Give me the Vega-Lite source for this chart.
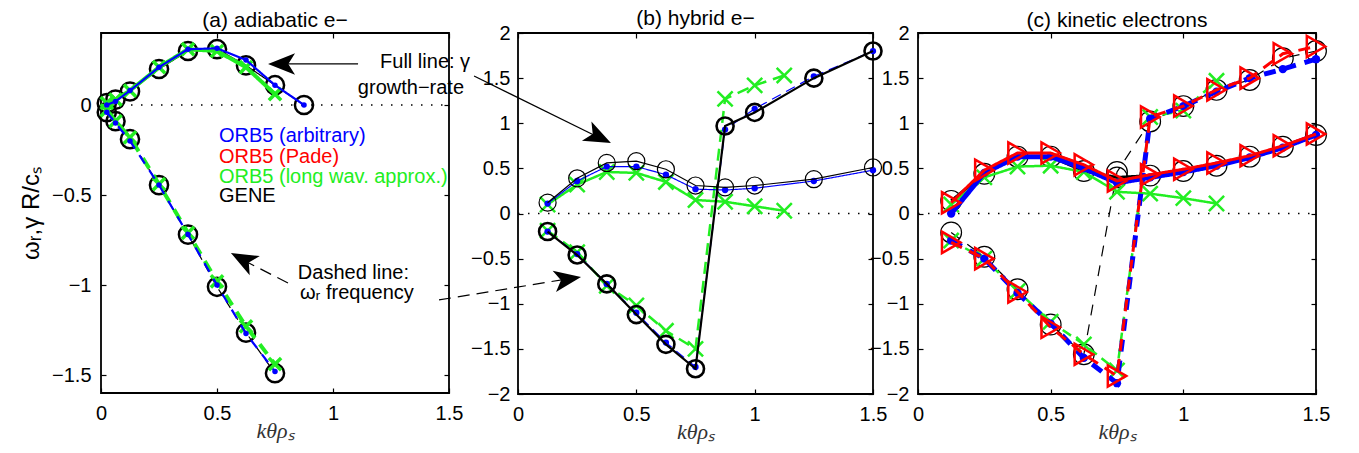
{
  "$schema": "https://vega.github.io/schema/vega-lite/v6.json",
  "autosize": {"type": "pad"},
  "padding": {"left": 18, "top": 6, "right": 5, "bottom": 5},
  "background": "white",
  "spacing": 0,
  "bounds": "flush",
  "data": {"values": [
    {"p":"a","s":"gene","q":"growth","k":0.025,"v":0.01},
    {"p":"a","s":"gene","q":"growth","k":0.0625,"v":0.03},
    {"p":"a","s":"gene","q":"growth","k":0.125,"v":0.075},
    {"p":"a","s":"gene","q":"growth","k":0.25,"v":0.2},
    {"p":"a","s":"gene","q":"growth","k":0.375,"v":0.3},
    {"p":"a","s":"gene","q":"growth","k":0.5,"v":0.31},
    {"p":"a","s":"gene","q":"growth","k":0.625,"v":0.22},
    {"p":"a","s":"gene","q":"growth","k":0.75,"v":0.11},
    {"p":"a","s":"gene","q":"growth","k":0.875,"v":0.0},
    {"p":"a","s":"gene","q":"freq","k":0.025,"v":-0.04},
    {"p":"a","s":"gene","q":"freq","k":0.0625,"v":-0.09},
    {"p":"a","s":"gene","q":"freq","k":0.125,"v":-0.19},
    {"p":"a","s":"gene","q":"freq","k":0.25,"v":-0.445},
    {"p":"a","s":"gene","q":"freq","k":0.375,"v":-0.72},
    {"p":"a","s":"gene","q":"freq","k":0.5,"v":-1.01},
    {"p":"a","s":"gene","q":"freq","k":0.625,"v":-1.265},
    {"p":"a","s":"gene","q":"freq","k":0.75,"v":-1.49},
    {"p":"a","s":"arb","q":"growth","k":0.025,"v":0.0},
    {"p":"a","s":"arb","q":"growth","k":0.0625,"v":0.02},
    {"p":"a","s":"arb","q":"growth","k":0.125,"v":0.08},
    {"p":"a","s":"arb","q":"growth","k":0.25,"v":0.21},
    {"p":"a","s":"arb","q":"growth","k":0.375,"v":0.31},
    {"p":"a","s":"arb","q":"growth","k":0.5,"v":0.315},
    {"p":"a","s":"arb","q":"growth","k":0.625,"v":0.25},
    {"p":"a","s":"arb","q":"growth","k":0.75,"v":0.11},
    {"p":"a","s":"arb","q":"growth","k":0.875,"v":0.0},
    {"p":"a","s":"arb","q":"freq","k":0.025,"v":-0.04},
    {"p":"a","s":"arb","q":"freq","k":0.0625,"v":-0.1},
    {"p":"a","s":"arb","q":"freq","k":0.125,"v":-0.2},
    {"p":"a","s":"arb","q":"freq","k":0.25,"v":-0.445},
    {"p":"a","s":"arb","q":"freq","k":0.375,"v":-0.72},
    {"p":"a","s":"arb","q":"freq","k":0.5,"v":-1.0},
    {"p":"a","s":"arb","q":"freq","k":0.625,"v":-1.27},
    {"p":"a","s":"arb","q":"freq","k":0.75,"v":-1.48},
    {"p":"a","s":"lwa","q":"growth","k":0.025,"v":0.01},
    {"p":"a","s":"lwa","q":"growth","k":0.0625,"v":0.03},
    {"p":"a","s":"lwa","q":"growth","k":0.125,"v":0.08},
    {"p":"a","s":"lwa","q":"growth","k":0.25,"v":0.21},
    {"p":"a","s":"lwa","q":"growth","k":0.375,"v":0.31},
    {"p":"a","s":"lwa","q":"growth","k":0.5,"v":0.3},
    {"p":"a","s":"lwa","q":"growth","k":0.625,"v":0.21},
    {"p":"a","s":"lwa","q":"growth","k":0.75,"v":0.06},
    {"p":"a","s":"lwa","q":"freq","k":0.025,"v":-0.03},
    {"p":"a","s":"lwa","q":"freq","k":0.0625,"v":-0.09},
    {"p":"a","s":"lwa","q":"freq","k":0.125,"v":-0.18},
    {"p":"a","s":"lwa","q":"freq","k":0.25,"v":-0.44},
    {"p":"a","s":"lwa","q":"freq","k":0.375,"v":-0.71},
    {"p":"a","s":"lwa","q":"freq","k":0.5,"v":-0.98},
    {"p":"a","s":"lwa","q":"freq","k":0.625,"v":-1.23},
    {"p":"a","s":"lwa","q":"freq","k":0.75,"v":-1.44},

    {"p":"b","s":"gene","q":"growth","k":0.125,"v":0.12},
    {"p":"b","s":"gene","q":"growth","k":0.25,"v":0.39},
    {"p":"b","s":"gene","q":"growth","k":0.375,"v":0.56},
    {"p":"b","s":"gene","q":"growth","k":0.5,"v":0.58},
    {"p":"b","s":"gene","q":"growth","k":0.625,"v":0.49},
    {"p":"b","s":"gene","q":"growth","k":0.75,"v":0.31},
    {"p":"b","s":"gene","q":"growth","k":0.875,"v":0.29},
    {"p":"b","s":"gene","q":"growth","k":1.0,"v":0.31},
    {"p":"b","s":"gene","q":"growth","k":1.25,"v":0.38},
    {"p":"b","s":"gene","q":"growth","k":1.5,"v":0.51},
    {"p":"b","s":"gene","q":"freq","k":0.125,"v":-0.2},
    {"p":"b","s":"gene","q":"freq","k":0.25,"v":-0.46},
    {"p":"b","s":"gene","q":"freq","k":0.375,"v":-0.78},
    {"p":"b","s":"gene","q":"freq","k":0.5,"v":-1.12},
    {"p":"b","s":"gene","q":"freq","k":0.625,"v":-1.45},
    {"p":"b","s":"gene","q":"freq","k":0.75,"v":-1.72},
    {"p":"b","s":"gene","q":"freq","k":0.875,"v":0.97},
    {"p":"b","s":"gene","q":"freq","k":1.0,"v":1.12},
    {"p":"b","s":"gene","q":"freq","k":1.25,"v":1.5},
    {"p":"b","s":"gene","q":"freq","k":1.5,"v":1.8},
    {"p":"b","s":"arb","q":"growth","k":0.125,"v":0.11},
    {"p":"b","s":"arb","q":"growth","k":0.25,"v":0.36},
    {"p":"b","s":"arb","q":"growth","k":0.375,"v":0.52},
    {"p":"b","s":"arb","q":"growth","k":0.5,"v":0.52},
    {"p":"b","s":"arb","q":"growth","k":0.625,"v":0.43},
    {"p":"b","s":"arb","q":"growth","k":0.75,"v":0.27},
    {"p":"b","s":"arb","q":"growth","k":0.875,"v":0.26},
    {"p":"b","s":"arb","q":"growth","k":1.0,"v":0.28},
    {"p":"b","s":"arb","q":"growth","k":1.25,"v":0.36},
    {"p":"b","s":"arb","q":"growth","k":1.5,"v":0.48},
    {"p":"b","s":"arb","q":"freq","k":0.125,"v":-0.2},
    {"p":"b","s":"arb","q":"freq","k":0.25,"v":-0.45},
    {"p":"b","s":"arb","q":"freq","k":0.375,"v":-0.78},
    {"p":"b","s":"arb","q":"freq","k":0.5,"v":-1.1},
    {"p":"b","s":"arb","q":"freq","k":0.625,"v":-1.43},
    {"p":"b","s":"arb","q":"freq","k":0.75,"v":-1.7},
    {"p":"b","s":"arb","q":"freq","k":0.875,"v":0.93},
    {"p":"b","s":"arb","q":"freq","k":1.0,"v":1.16},
    {"p":"b","s":"arb","q":"freq","k":1.25,"v":1.52},
    {"p":"b","s":"arb","q":"freq","k":1.5,"v":1.8},
    {"p":"b","s":"lwa","q":"growth","k":0.125,"v":0.1},
    {"p":"b","s":"lwa","q":"growth","k":0.25,"v":0.32},
    {"p":"b","s":"lwa","q":"growth","k":0.375,"v":0.46},
    {"p":"b","s":"lwa","q":"growth","k":0.5,"v":0.45},
    {"p":"b","s":"lwa","q":"growth","k":0.625,"v":0.35},
    {"p":"b","s":"lwa","q":"growth","k":0.75,"v":0.15},
    {"p":"b","s":"lwa","q":"growth","k":0.875,"v":0.13},
    {"p":"b","s":"lwa","q":"growth","k":1.0,"v":0.08},
    {"p":"b","s":"lwa","q":"growth","k":1.125,"v":0.03},
    {"p":"b","s":"lwa","q":"freq","k":0.125,"v":-0.19},
    {"p":"b","s":"lwa","q":"freq","k":0.25,"v":-0.43},
    {"p":"b","s":"lwa","q":"freq","k":0.375,"v":-0.8},
    {"p":"b","s":"lwa","q":"freq","k":0.5,"v":-1.02},
    {"p":"b","s":"lwa","q":"freq","k":0.625,"v":-1.3},
    {"p":"b","s":"lwa","q":"freq","k":0.75,"v":-1.5},
    {"p":"b","s":"lwa","q":"freq","k":0.875,"v":1.27},
    {"p":"b","s":"lwa","q":"freq","k":1.0,"v":1.42},
    {"p":"b","s":"lwa","q":"freq","k":1.125,"v":1.53},

    {"p":"c","s":"gene","q":"growth","k":0.125,"v":0.14},
    {"p":"c","s":"gene","q":"growth","k":0.25,"v":0.44},
    {"p":"c","s":"gene","q":"growth","k":0.375,"v":0.63},
    {"p":"c","s":"gene","q":"growth","k":0.5,"v":0.63},
    {"p":"c","s":"gene","q":"growth","k":0.625,"v":0.47},
    {"p":"c","s":"gene","q":"growth","k":0.75,"v":0.4},
    {"p":"c","s":"gene","q":"growth","k":0.875,"v":0.42},
    {"p":"c","s":"gene","q":"growth","k":1.0,"v":0.47},
    {"p":"c","s":"gene","q":"growth","k":1.125,"v":0.53},
    {"p":"c","s":"gene","q":"growth","k":1.25,"v":0.63},
    {"p":"c","s":"gene","q":"growth","k":1.375,"v":0.74},
    {"p":"c","s":"gene","q":"growth","k":1.5,"v":0.87},
    {"p":"c","s":"gene","q":"freq","k":0.125,"v":-0.21},
    {"p":"c","s":"gene","q":"freq","k":0.25,"v":-0.48},
    {"p":"c","s":"gene","q":"freq","k":0.375,"v":-0.84},
    {"p":"c","s":"gene","q":"freq","k":0.5,"v":-1.23},
    {"p":"c","s":"gene","q":"freq","k":0.625,"v":-1.56},
    {"p":"c","s":"gene","q":"freq","k":0.75,"v":0.46},
    {"p":"c","s":"gene","q":"freq","k":0.875,"v":1.02},
    {"p":"c","s":"gene","q":"freq","k":1.0,"v":1.19},
    {"p":"c","s":"gene","q":"freq","k":1.125,"v":1.37},
    {"p":"c","s":"gene","q":"freq","k":1.25,"v":1.48},
    {"p":"c","s":"gene","q":"freq","k":1.375,"v":1.72},
    {"p":"c","s":"gene","q":"freq","k":1.5,"v":1.8},
    {"p":"c","s":"pade","q":"growth","k":0.125,"v":0.12},
    {"p":"c","s":"pade","q":"growth","k":0.25,"v":0.48},
    {"p":"c","s":"pade","q":"growth","k":0.375,"v":0.67},
    {"p":"c","s":"pade","q":"growth","k":0.5,"v":0.67},
    {"p":"c","s":"pade","q":"growth","k":0.625,"v":0.54},
    {"p":"c","s":"pade","q":"growth","k":0.75,"v":0.36},
    {"p":"c","s":"pade","q":"growth","k":0.875,"v":0.43},
    {"p":"c","s":"pade","q":"growth","k":1.0,"v":0.49},
    {"p":"c","s":"pade","q":"growth","k":1.125,"v":0.56},
    {"p":"c","s":"pade","q":"growth","k":1.25,"v":0.64},
    {"p":"c","s":"pade","q":"growth","k":1.375,"v":0.75},
    {"p":"c","s":"pade","q":"growth","k":1.5,"v":0.88},
    {"p":"c","s":"pade","q":"freq","k":0.125,"v":-0.32},
    {"p":"c","s":"pade","q":"freq","k":0.25,"v":-0.5},
    {"p":"c","s":"pade","q":"freq","k":0.375,"v":-0.87},
    {"p":"c","s":"pade","q":"freq","k":0.5,"v":-1.26},
    {"p":"c","s":"pade","q":"freq","k":0.625,"v":-1.56},
    {"p":"c","s":"pade","q":"freq","k":0.75,"v":-1.8},
    {"p":"c","s":"pade","q":"freq","k":0.875,"v":1.07},
    {"p":"c","s":"pade","q":"freq","k":1.0,"v":1.19},
    {"p":"c","s":"pade","q":"freq","k":1.125,"v":1.37},
    {"p":"c","s":"pade","q":"freq","k":1.25,"v":1.5},
    {"p":"c","s":"pade","q":"freq","k":1.375,"v":1.77},
    {"p":"c","s":"pade","q":"freq","k":1.5,"v":1.85},
    {"p":"c","s":"arb","q":"growth","k":0.125,"v":0.0},
    {"p":"c","s":"arb","q":"growth","k":0.25,"v":0.45},
    {"p":"c","s":"arb","q":"growth","k":0.375,"v":0.63},
    {"p":"c","s":"arb","q":"growth","k":0.5,"v":0.63},
    {"p":"c","s":"arb","q":"growth","k":0.625,"v":0.5},
    {"p":"c","s":"arb","q":"growth","k":0.75,"v":0.34},
    {"p":"c","s":"arb","q":"growth","k":0.875,"v":0.4},
    {"p":"c","s":"arb","q":"growth","k":1.0,"v":0.46},
    {"p":"c","s":"arb","q":"growth","k":1.125,"v":0.53},
    {"p":"c","s":"arb","q":"growth","k":1.25,"v":0.62},
    {"p":"c","s":"arb","q":"growth","k":1.375,"v":0.73},
    {"p":"c","s":"arb","q":"growth","k":1.5,"v":0.87},
    {"p":"c","s":"arb","q":"freq","k":0.125,"v":-0.3},
    {"p":"c","s":"arb","q":"freq","k":0.25,"v":-0.5},
    {"p":"c","s":"arb","q":"freq","k":0.375,"v":-0.88},
    {"p":"c","s":"arb","q":"freq","k":0.5,"v":-1.22},
    {"p":"c","s":"arb","q":"freq","k":0.625,"v":-1.6},
    {"p":"c","s":"arb","q":"freq","k":0.75,"v":-1.88},
    {"p":"c","s":"arb","q":"freq","k":0.875,"v":1.05},
    {"p":"c","s":"arb","q":"freq","k":1.0,"v":1.19},
    {"p":"c","s":"arb","q":"freq","k":1.125,"v":1.35},
    {"p":"c","s":"arb","q":"freq","k":1.25,"v":1.5},
    {"p":"c","s":"arb","q":"freq","k":1.375,"v":1.6},
    {"p":"c","s":"arb","q":"freq","k":1.5,"v":1.71},
    {"p":"c","s":"lwa","q":"growth","k":0.125,"v":0.1},
    {"p":"c","s":"lwa","q":"growth","k":0.25,"v":0.4},
    {"p":"c","s":"lwa","q":"growth","k":0.375,"v":0.52},
    {"p":"c","s":"lwa","q":"growth","k":0.5,"v":0.53},
    {"p":"c","s":"lwa","q":"growth","k":0.625,"v":0.46},
    {"p":"c","s":"lwa","q":"growth","k":0.75,"v":0.24},
    {"p":"c","s":"lwa","q":"growth","k":0.875,"v":0.22},
    {"p":"c","s":"lwa","q":"growth","k":1.0,"v":0.17},
    {"p":"c","s":"lwa","q":"growth","k":1.125,"v":0.11},
    {"p":"c","s":"lwa","q":"freq","k":0.125,"v":-0.3},
    {"p":"c","s":"lwa","q":"freq","k":0.25,"v":-0.5},
    {"p":"c","s":"lwa","q":"freq","k":0.375,"v":-0.86},
    {"p":"c","s":"lwa","q":"freq","k":0.5,"v":-1.2},
    {"p":"c","s":"lwa","q":"freq","k":0.625,"v":-1.45},
    {"p":"c","s":"lwa","q":"freq","k":0.75,"v":-1.74},
    {"p":"c","s":"lwa","q":"freq","k":0.875,"v":1.07},
    {"p":"c","s":"lwa","q":"freq","k":1.0,"v":1.14},
    {"p":"c","s":"lwa","q":"freq","k":1.125,"v":1.47}
  ]},
  "hconcat": [
    {
      "width": 348, "height": 360,
      "title": {"text": "(a) adiabatic e\u2212", "frame": "group", "anchor": "middle", "baseline": "alphabetic", "offset": -15.5},
      "resolve": {"axis": {"x": "independent", "y": "independent"}},
      "layer": [
        {
          "data": {"values": [{}]},
          "mark": {"type": "rule", "color": "black", "strokeDash": [1.5, 8.5], "strokeWidth": 1.5},
          "encoding": {
            "x": {"datum": 0, "type": "quantitative", "scale": {"domain": [0, 1.5], "nice": false, "zero": false}, "axis": {"orient": "top", "labels": false, "values": [0, 0.5, 1, 1.5], "title": null}},
            "x2": {"datum": 1.5},
            "y": {"datum": 0, "type": "quantitative", "scale": {"domain": [-1.6, 0.4], "nice": false, "zero": false}, "axis": {"orient": "right", "labels": false, "values": [-1.5, -1, -0.5, 0], "title": null}}
          }
        },
        {
          "transform": [{"filter": "datum.p === 'a'"}],
          "encoding": {
            "x": {"field": "k", "type": "quantitative", "scale": {"domain": [0, 1.5], "nice": false, "zero": false}, "axis": {"orient": "bottom", "values": [0, 0.5, 1, 1.5], "format": "~g", "title": "k\u03b8\u03c1\u209b", "labelPadding": 15, "titlePadding": -3}},
            "y": {"field": "v", "type": "quantitative", "scale": {"domain": [-1.6, 0.4], "nice": false, "zero": false}, "axis": {"orient": "left", "values": [-1.5, -1, -0.5, 0], "format": "~g", "labelPadding": 15, "title": "\u03c9\u1d63,\u03b3 R/c\u209b", "titleFont": "Liberation Sans", "titleFontStyle": "normal", "titleFontSize": 24, "titleColor": "black", "titlePadding": 8}},
            "color": {"field": "s", "type": "nominal", "scale": {"domain": ["arb", "pade", "lwa", "gene"], "range": ["#0000ff", "#ff0000", "#22ee22", "#000000"]}, "legend": null}
          },
          "layer": [
            {"transform": [{"filter": "datum.s === 'gene'"}], "mark": {"type": "line", "strokeWidth": 1.2},
             "encoding": {"detail": {"field": "q"}, "strokeDash": {"condition": {"test": "datum.q === 'freq'", "value": [8, 6]}, "value": [1, 0]}}},
            {"transform": [{"filter": "datum.s === 'gene'"}], "mark": {"type": "point", "shape": "circle", "filled": false, "size": 330, "strokeWidth": 2.5, "opacity": 1}},
            {"transform": [{"filter": "datum.s === 'lwa'"}], "mark": {"type": "line", "strokeWidth": 4},
             "encoding": {"detail": {"field": "q"}, "strokeDash": {"condition": {"test": "datum.q === 'freq'", "value": [12, 8]}, "value": [1, 0]}}},
            {"transform": [{"filter": "datum.s === 'lwa'"}], "mark": {"type": "point", "shape": "M-1,-1L1,1M-1,1L1,-1", "filled": false, "size": 150, "strokeWidth": 3.5, "opacity": 1}},
            {"transform": [{"filter": "datum.s === 'arb'"}], "mark": {"type": "line", "strokeWidth": 2.2},
             "encoding": {"detail": {"field": "q"}, "strokeDash": {"condition": {"test": "datum.q === 'freq'", "value": [10, 8]}, "value": [1, 0]}}},
            {"transform": [{"filter": "datum.s === 'arb'"}], "mark": {"type": "point", "shape": "circle", "filled": true, "size": 30, "opacity": 1}}
          ]
        },
        {"data": {"values": [{}]}, "mark": {"type": "text", "text": "ORB5 (arbitrary)", "font": "Liberation Sans", "fontSize": 20, "align": "left", "baseline": "middle"},
         "encoding": {"x": {"datum": 0.5086, "type": "quantitative", "axis": null}, "y": {"datum": -0.172, "type": "quantitative", "axis": null}, "color": {"datum": "arb", "type": "nominal", "legend": null}}},
        {"data": {"values": [{}]}, "mark": {"type": "text", "text": "ORB5 (Pade)", "font": "Liberation Sans", "fontSize": 20, "align": "left", "baseline": "middle"},
         "encoding": {"x": {"datum": 0.5086, "type": "quantitative", "axis": null}, "y": {"datum": -0.289, "type": "quantitative", "axis": null}, "color": {"datum": "pade", "type": "nominal", "legend": null}}},
        {"data": {"values": [{}]}, "mark": {"type": "text", "text": "ORB5 (long wav. approx.)", "font": "Liberation Sans", "fontSize": 20, "align": "left", "baseline": "middle"},
         "encoding": {"x": {"datum": 0.5086, "type": "quantitative", "axis": null}, "y": {"datum": -0.4, "type": "quantitative", "axis": null}, "color": {"datum": "lwa", "type": "nominal", "legend": null}}},
        {"data": {"values": [{}]}, "mark": {"type": "text", "text": "GENE", "font": "Liberation Sans", "fontSize": 20, "align": "left", "baseline": "middle"},
         "encoding": {"x": {"datum": 0.5086, "type": "quantitative", "axis": null}, "y": {"datum": -0.508, "type": "quantitative", "axis": null}, "color": {"datum": "gene", "type": "nominal", "legend": null}}},
        {"data": {"values": [{}]}, "mark": {"type": "rule", "color": "black", "strokeWidth": 1.2},
         "encoding": {"x": {"datum": 1.108, "type": "quantitative", "axis": null}, "y": {"datum": 0.228, "type": "quantitative", "axis": null}, "x2": {"datum": 0.74}, "y2": {"datum": 0.228}}},
        {"data": {"values": [{}]}, "mark": {"type": "point", "shape": "M0,0L-2,-0.8L-1.5,0L-2,0.8Z", "filled": true, "color": "black", "size": 729, "angle": 180, "opacity": 1},
         "encoding": {"x": {"datum": 0.72, "type": "quantitative", "axis": null}, "y": {"datum": 0.228, "type": "quantitative", "axis": null}}},
        {"data": {"values": [{}]}, "mark": {"type": "rule", "color": "black", "strokeWidth": 1.2},
         "encoding": {"x": {"datum": 1.608, "type": "quantitative", "axis": null}, "y": {"datum": 0.161, "type": "quantitative", "axis": null}, "x2": {"datum": 2.17}, "y2": {"datum": -0.196}}},
        {"data": {"values": [{}]}, "mark": {"type": "point", "shape": "M0,0L-2,-0.8L-1.5,0L-2,0.8Z", "filled": true, "color": "black", "size": 729, "angle": 26, "opacity": 1},
         "encoding": {"x": {"datum": 2.198, "type": "quantitative", "axis": null}, "y": {"datum": -0.211, "type": "quantitative", "axis": null}}},
        {"data": {"values": [{}]}, "mark": {"type": "rule", "color": "black", "strokeWidth": 1.2, "strokeDash": [12, 7]},
         "encoding": {"x": {"datum": 0.806, "type": "quantitative", "axis": null}, "y": {"datum": -0.989, "type": "quantitative", "axis": null}, "x2": {"datum": 0.58}, "y2": {"datum": -0.84}}},
        {"data": {"values": [{}]}, "mark": {"type": "point", "shape": "M0,0L-2,-0.8L-1.5,0L-2,0.8Z", "filled": true, "color": "black", "size": 729, "angle": 208, "opacity": 1},
         "encoding": {"x": {"datum": 0.56, "type": "quantitative", "axis": null}, "y": {"datum": -0.822, "type": "quantitative", "axis": null}}},
        {"data": {"values": [{}]}, "mark": {"type": "rule", "color": "black", "strokeWidth": 1.2, "strokeDash": [12, 7]},
         "encoding": {"x": {"datum": 1.457, "type": "quantitative", "axis": null}, "y": {"datum": -1.083, "type": "quantitative", "axis": null}, "x2": {"datum": 2.04}, "y2": {"datum": -0.96}}},
        {"data": {"values": [{}]}, "mark": {"type": "point", "shape": "M0,0L-2,-0.8L-1.5,0L-2,0.8Z", "filled": true, "color": "black", "size": 729, "angle": 351, "opacity": 1},
         "encoding": {"x": {"datum": 2.069, "type": "quantitative", "axis": null}, "y": {"datum": -0.956, "type": "quantitative", "axis": null}}},
        {"data": {"values": [{}]}, "mark": {"type": "text", "text": "Full line: \u03b3", "font": "Liberation Sans", "fontSize": 20, "color": "black", "align": "center", "baseline": "middle"},
         "encoding": {"x": {"datum": 1.397, "type": "quantitative", "axis": null}, "y": {"datum": 0.239, "type": "quantitative", "axis": null}}},
        {"data": {"values": [{}]}, "mark": {"type": "text", "text": "growth\u2212rate", "font": "Liberation Sans", "fontSize": 20, "color": "black", "align": "center", "baseline": "middle"},
         "encoding": {"x": {"datum": 1.336, "type": "quantitative", "axis": null}, "y": {"datum": 0.094, "type": "quantitative", "axis": null}}},
        {"data": {"values": [{}]}, "mark": {"type": "text", "text": "Dashed line:", "font": "Liberation Sans", "fontSize": 20, "color": "black", "align": "center", "baseline": "middle"},
         "encoding": {"x": {"datum": 1.088, "type": "quantitative", "axis": null}, "y": {"datum": -0.933, "type": "quantitative", "axis": null}}},
        {"data": {"values": [{}]}, "mark": {"type": "text", "text": "\u03c9\u1d63 frequency", "font": "Liberation Sans", "fontSize": 20, "color": "black", "align": "center", "baseline": "middle"},
         "encoding": {"x": {"datum": 1.103, "type": "quantitative", "axis": null}, "y": {"datum": -1.044, "type": "quantitative", "axis": null}}}
      ]
    },
    {"width": 69, "height": 360, "data": {"values": []}, "mark": {"type": "point", "opacity": 0}, "encoding": {}, "view": {"stroke": null}},
    {
      "width": 355, "height": 361,
      "title": {"text": "(b) hybrid e\u2212", "frame": "group", "anchor": "middle", "baseline": "alphabetic", "offset": -22.5},
      "resolve": {"axis": {"x": "independent", "y": "independent"}},
      "layer": [
        {
          "data": {"values": [{}]},
          "mark": {"type": "rule", "color": "black", "strokeDash": [1.5, 8.5], "strokeWidth": 1.5},
          "encoding": {
            "x": {"datum": 0, "type": "quantitative", "scale": {"domain": [0, 1.5], "nice": false, "zero": false}, "axis": {"orient": "top", "labels": false, "values": [0, 0.5, 1, 1.5], "title": null}},
            "x2": {"datum": 1.5},
            "y": {"datum": 0, "type": "quantitative", "scale": {"domain": [-2, 2], "nice": false, "zero": false}, "axis": {"orient": "right", "labels": false, "values": [-2, -1.5, -1, -0.5, 0, 0.5, 1, 1.5, 2], "title": null}}
          }
        },
        {
          "transform": [{"filter": "datum.p === 'b'"}],
          "encoding": {
            "x": {"field": "k", "type": "quantitative", "scale": {"domain": [0, 1.5], "nice": false, "zero": false}, "axis": {"orient": "bottom", "values": [0, 0.5, 1, 1.5], "format": "~g", "title": "k\u03b8\u03c1\u209b", "labelPadding": 15, "titlePadding": -3}},
            "y": {"field": "v", "type": "quantitative", "scale": {"domain": [-2, 2], "nice": false, "zero": false}, "axis": {"orient": "left", "values": [-2, -1.5, -1, -0.5, 0, 0.5, 1, 1.5, 2], "format": "~g", "labelPadding": 13, "title": null}},
            "color": {"field": "s", "type": "nominal", "scale": {"domain": ["arb", "pade", "lwa", "gene"], "range": ["#0000ff", "#ff0000", "#22ee22", "#000000"]}, "legend": null}
          },
          "layer": [
            {"transform": [{"filter": "datum.s === 'lwa'"}], "mark": {"type": "line", "strokeWidth": 2.5},
             "encoding": {"detail": {"field": "q"}, "strokeDash": {"condition": {"test": "datum.q === 'freq'", "value": [12, 7]}, "value": [1, 0]}}},
            {"transform": [{"filter": "datum.s === 'lwa'"}], "mark": {"type": "point", "shape": "M-1,-1L1,1M-1,1L1,-1", "filled": false, "size": 230, "strokeWidth": 2.5, "opacity": 1}},
            {"transform": [{"filter": "datum.s === 'arb'"}], "mark": {"type": "line", "strokeWidth": 1.2},
             "encoding": {"detail": {"field": "q"}, "strokeDash": {"condition": {"test": "datum.q === 'freq'", "value": [10, 6]}, "value": [1, 0]}}},
            {"transform": [{"filter": "datum.s === 'arb'"}], "mark": {"type": "point", "shape": "circle", "filled": true, "size": 40, "opacity": 1}},
            {"transform": [{"filter": "datum.s === 'gene'"}], "mark": {"type": "line"},
             "encoding": {"detail": {"field": "q"}, "strokeWidth": {"condition": {"test": "datum.q === 'freq'", "value": 2.2}, "value": 1.2}}},
            {"transform": [{"filter": "datum.s === 'gene'"}], "mark": {"type": "point", "shape": "circle", "filled": false, "size": 290, "opacity": 1},
             "encoding": {"strokeWidth": {"condition": {"test": "datum.q === 'freq'", "value": 2.6}, "value": 1.2}}}
          ]
        }
      ]
    },
    {"width": 45, "height": 361, "data": {"values": []}, "mark": {"type": "point", "opacity": 0}, "encoding": {}, "view": {"stroke": null}},
    {
      "width": 398, "height": 361,
      "title": {"text": "(c) kinetic electrons", "frame": "group", "anchor": "middle", "baseline": "alphabetic", "offset": -24.5},
      "resolve": {"axis": {"x": "independent", "y": "independent"}},
      "layer": [
        {
          "data": {"values": [{}]},
          "mark": {"type": "rule", "color": "black", "strokeDash": [1.5, 8.5], "strokeWidth": 1.5},
          "encoding": {
            "x": {"datum": 0, "type": "quantitative", "scale": {"domain": [0, 1.5], "nice": false, "zero": false}, "axis": {"orient": "top", "labels": false, "values": [0, 0.5, 1, 1.5], "title": null}},
            "x2": {"datum": 1.5},
            "y": {"datum": 0, "type": "quantitative", "scale": {"domain": [-2, 2], "nice": false, "zero": false}, "axis": {"orient": "right", "labels": false, "values": [-2, -1.5, -1, -0.5, 0, 0.5, 1, 1.5, 2], "title": null}}
          }
        },
        {
          "transform": [{"filter": "datum.p === 'c'"}],
          "encoding": {
            "x": {"field": "k", "type": "quantitative", "scale": {"domain": [0, 1.5], "nice": false, "zero": false}, "axis": {"orient": "bottom", "values": [0, 0.5, 1, 1.5], "format": "~g", "title": "k\u03b8\u03c1\u209b", "labelPadding": 15, "titlePadding": -3}},
            "y": {"field": "v", "type": "quantitative", "scale": {"domain": [-2, 2], "nice": false, "zero": false}, "axis": {"orient": "left", "values": [-2, -1.5, -1, -0.5, 0, 0.5, 1, 1.5, 2], "format": "~g", "labelPadding": 14, "title": null}},
            "color": {"field": "s", "type": "nominal", "scale": {"domain": ["arb", "pade", "lwa", "gene"], "range": ["#0000ff", "#ff0000", "#22ee22", "#000000"]}, "legend": null}
          },
          "layer": [
            {"transform": [{"filter": "datum.s === 'gene'"}], "mark": {"type": "line"},
             "encoding": {"detail": {"field": "q"}, "strokeWidth": {"condition": {"test": "datum.q === 'freq'", "value": 1.2}, "value": 3}, "strokeDash": {"condition": {"test": "datum.q === 'freq'", "value": [11, 9]}, "value": [1, 0]}}},
            {"transform": [{"filter": "datum.s === 'gene'"}], "mark": {"type": "point", "shape": "circle", "filled": false, "size": 430, "strokeWidth": 1.2, "opacity": 1}},
            {"transform": [{"filter": "datum.s === 'lwa'"}], "mark": {"type": "line", "strokeWidth": 2.5},
             "encoding": {"detail": {"field": "q"}, "strokeDash": {"condition": {"test": "datum.q === 'freq'", "value": [10, 6]}, "value": [1, 0]}}},
            {"transform": [{"filter": "datum.s === 'lwa'"}], "mark": {"type": "point", "shape": "M-1,-1L1,1M-1,1L1,-1", "filled": false, "size": 230, "strokeWidth": 2.5, "opacity": 1}},
            {"transform": [{"filter": "datum.s === 'arb'"}], "mark": {"type": "line", "strokeWidth": 5},
             "encoding": {"detail": {"field": "q"}, "strokeDash": {"condition": {"test": "datum.q === 'freq'", "value": [12, 9]}, "value": [1, 0]}}},
            {"transform": [{"filter": "datum.s === 'arb'"}], "mark": {"type": "point", "shape": "circle", "filled": true, "size": 70, "opacity": 1}},
            {"transform": [{"filter": "datum.s === 'pade'"}], "mark": {"type": "line", "strokeWidth": 3},
             "encoding": {"detail": {"field": "q"}, "strokeDash": {"condition": {"test": "datum.q === 'freq'", "value": [12, 8]}, "value": [1, 0]}}},
            {"transform": [{"filter": "datum.s === 'pade'"}], "mark": {"type": "point", "shape": "triangle-right", "filled": false, "size": 450, "strokeWidth": 2.5, "opacity": 1}}
          ]
        }
      ]
    }
  ],
  "config": {
    "view": {"stroke": "black", "strokeWidth": 1.8},
    "axis": {"grid": false, "domain": false, "ticks": true, "tickColor": "black", "tickSize": -5, "tickWidth": 1.2,
      "labelFont": "Liberation Sans", "labelFontSize": 20, "labelColor": "black", "labelFlush": false, "labelOverlap": false,
      "titleFont": "Liberation Serif", "titleFontStyle": "italic", "titleFontWeight": "normal", "titleFontSize": 22, "titleColor": "#333333"},
    "title": {"font": "Liberation Sans", "fontSize": 21, "fontWeight": "normal", "color": "black"}
  }
}
